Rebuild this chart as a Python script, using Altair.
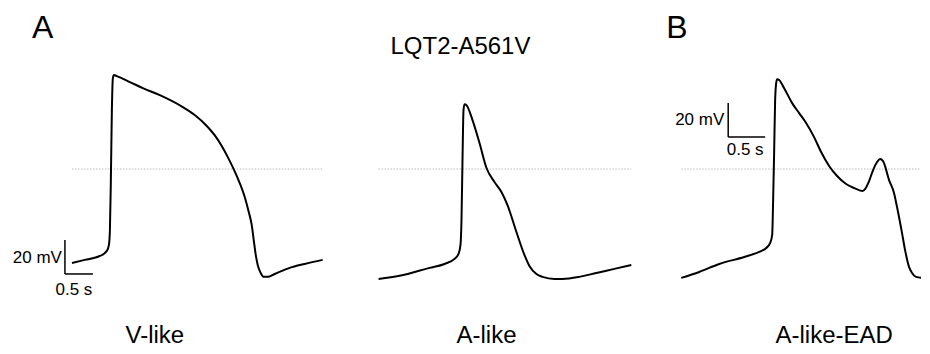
import altair as alt
import pandas as pd

# ---------------- data (time in s, membrane potential in mV) ----------------
vlike_t = [0.0, 0.23, 0.5, 0.625, 0.661, 0.679, 0.696, 0.714, 0.732, 0.75, 0.804, 1.036, 1.268,
           1.571, 1.982, 2.196, 2.411, 2.589, 2.768, 2.946, 3.089, 3.161, 3.214, 3.25, 3.286,
           3.321, 3.375, 3.429, 3.5, 3.625, 3.893, 4.161, 4.482]
vlike_mv = [-55.3, -53.5, -51.2, -48.2, -44.7, -35.9, -6.5, 34.7, 53.5, 55.3, 54.7, 51.2, 47.6,
            43.5, 36.5, 31.8, 25.3, 18.2, 8.2, -4.1, -16.5, -25.3, -32.9, -41.8, -50.6,
            -56.5, -61.2, -63.5, -63.5, -61.8, -58.2, -55.9, -53.5]

alike_t = [0.0, 0.375, 0.911, 1.179, 1.357, 1.429, 1.464, 1.482, 1.5, 1.518, 1.536, 1.571, 1.679,
           1.804, 1.929, 2.071, 2.196, 2.304, 2.464, 2.607, 2.696, 2.821, 2.929, 3.143, 3.286,
           3.589, 3.893, 4.214, 4.518]
alike_mv = [-64.7, -62.9, -58.2, -55.9, -52.9, -50.0, -44.7, -30.0, 5.3, 34.7, 38.2, 37.6, 28.8,
            15.3, 0.6, -7.6, -13.5, -21.2, -37.1, -50.6, -57.1, -61.8, -63.5, -64.7, -64.7,
            -63.5, -61.2, -58.8, -56.5]

ead_t = [0.0, 0.243, 0.514, 0.851, 1.054, 1.149, 1.203, 1.23, 1.243, 1.257, 1.27, 1.284, 1.297,
         1.324, 1.392, 1.5, 1.595, 1.689, 1.797, 1.892, 2.0, 2.108, 2.23, 2.338, 2.446, 2.486,
         2.541, 2.595, 2.649, 2.689, 2.73, 2.811, 2.878, 2.919, 2.986, 3.027, 3.081, 3.122,
         3.176, 3.243]
ead_mv = [-64.1, -60.6, -55.9, -51.8, -48.8, -46.5, -43.5, -38.8, -18.2, 11.2, 40.6, 50.6, 52.9,
          52.4, 47.6, 38.8, 32.9, 27.1, 18.8, 10.0, 1.8, -4.1, -8.8, -11.2, -12.9, -11.8,
          -7.1, -0.6, 4.1, 5.9, 4.7, -6.5, -14.1, -22.4, -37.6, -47.6, -57.6, -61.2,
          -63.5, -64.0]

panel_labels = ["V-like", "A-like", "A-like-EAD"]
letters = ["A", "B"]
title_text = "LQT2-A561V"
bar_mv = 20     # vertical scale bar, mV
bar_s = 0.5     # horizontal scale bar, s

FONT = "Liberation Sans"
Y_DOMAIN = [-104.1, 94.7]
H = 338


def text_layer(t, mv, label, size, align):
    df = pd.DataFrame({"t": [t], "mv": [mv], "label": [label]})
    return alt.Chart(df).mark_text(
        font=FONT, fontSize=size, align=align, baseline="alphabetic", color="black"
    ).encode(x="t:Q", y="mv:Q", text="label:N")


def panel(t, mv, xdom, width, zero_end, texts, bar=None):
    xs = alt.Scale(domain=xdom, nice=False, zero=False)
    ys = alt.Scale(domain=Y_DOMAIN, nice=False, zero=False)
    x = alt.X("t:Q", scale=xs, axis=None)
    y = alt.Y("mv:Q", scale=ys, axis=None)

    zero_df = pd.DataFrame({"t": [0.0], "t2": [zero_end], "mv": [0.0]})
    zero = alt.Chart(zero_df).mark_rule(
        color="#a8a8a8", strokeWidth=0.8, strokeDash=[1.5, 1.5]
    ).encode(x=x, x2="t2:Q", y=y)

    df = pd.DataFrame({"t": t, "mv": mv})
    trace = alt.Chart(df).mark_line(
        color="black", strokeWidth=2, interpolate="monotone", clip=True
    ).encode(x=x, y=y)

    layers = [zero, trace]
    if bar is not None:
        t0, v0 = bar
        bars = pd.DataFrame({
            "t": [t0, t0], "t2": [t0, t0 + bar_s],
            "mv": [v0, v0], "mv2": [v0 + bar_mv, v0],
        })
        layers.append(
            alt.Chart(bars).mark_rule(color="black", strokeWidth=1.5)
            .encode(x=x, x2="t2:Q", y=y, y2="mv2:Q")
        )
    layers += [text_layer(*tx) for tx in texts]
    return alt.layer(*layers).properties(width=width, height=H)


p1 = panel(
    vlike_t, vlike_mv, [-1.1429, 4.7857], 332, 4.482,
    texts=[
        (-0.714, 77.0, letters[0], 32, "left"),
        (1.482, -102.4, panel_labels[0], 24, "center"),
        (-0.179, -55.3, f"{bar_mv} mV", 17, "right"),
        (0.036, -74.4, f"{bar_s} s", 17, "center"),
    ],
    bar=(-0.125, -61.8),
)

p2 = panel(
    alike_t, alike_mv, [-0.6964, 4.8393], 310, 4.518,
    texts=[
        (1.464, 67.6, title_text, 24, "center"),
        (1.929, -102.4, panel_labels[1], 24, "center"),
    ],
)

p3 = panel(
    ead_t, ead_mv, [-0.4324, 3.2432], 272, 3.243,
    texts=[
        (-0.203, 77.0, letters[1], 32, "left"),
        (2.068, -102.4, panel_labels[2], 24, "center"),
        (0.581, 25.9, f"{bar_mv} mV", 17, "right"),
        (0.865, 8.2, f"{bar_s} s", 17, "center"),
    ],
    bar=(0.635, 18.8),
)

chart = (
    alt.hconcat(p1, p2, p3, spacing=0, bounds="flush")
    .properties(padding=0, background="white")
    .configure_view(stroke=None)
)

chart.save("out.html", embed_options={"renderer": "svg", "actions": False})
